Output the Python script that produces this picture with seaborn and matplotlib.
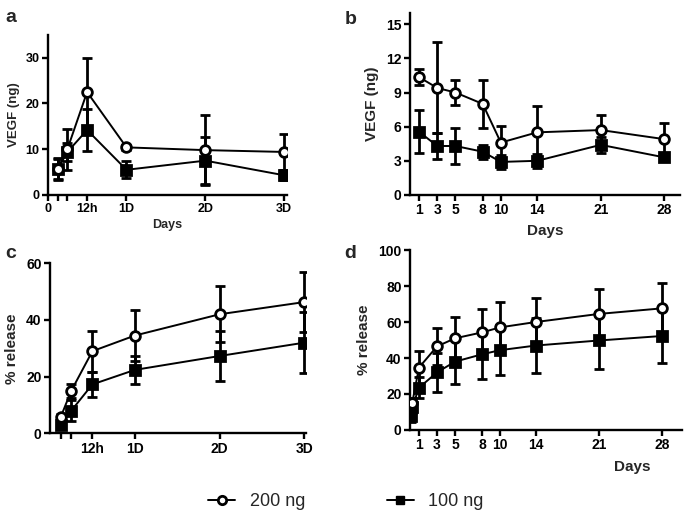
import numpy as np
import pandas as pd
import seaborn as sns
import matplotlib.pyplot as plt
from matplotlib.lines import Line2D

sns.set_style("ticks")
plt.rcParams['font.family'] = ['Liberation Sans', 'DejaVu Sans']
plt.rcParams['font.weight'] = 'bold'
plt.rcParams['axes.labelweight'] = 'bold'

# ---- data ----
hours = [3, 6, 12, 24, 48, 72]

a_200 = [5.7, 10.0, 22.5, 10.4, 9.8, 9.4]
a_200_sd = [2.4, 4.5, 7.5, 0.5, 7.6, 4.0]
a_100 = [5.6, 9.4, 14.2, 5.5, 7.5, 4.3]
a_100_sd = [2.2, 2.0, 4.7, 1.9, 5.2, 1.0]

days_b = [1, 3, 5, 8, 10, 14, 21, 28]
b_200 = [10.35, 9.4, 9.0, 8.0, 4.6, 5.5, 5.7, 4.9]
b_200_sd = [0.7, 4.0, 1.1, 2.1, 1.45, 2.3, 1.3, 1.4]
b_100 = [5.55, 4.3, 4.3, 3.8, 2.9, 3.0, 4.4, 3.3]
b_100_sd = [1.9, 1.1, 1.55, 0.6, 0.6, 0.6, 0.7, 0.2]

c_200 = [5.7, 15.0, 29.0, 34.5, 42.0, 46.3]
c_200_sd = [1.0, 2.5, 7.2, 9.1, 9.8, 10.7]
c_100 = [3.0, 8.0, 17.3, 22.4, 27.3, 32.0]
c_100_sd = [1.5, 3.7, 4.5, 4.9, 8.9, 10.7]

days_d_200 = [0.25, 1, 3, 5, 8, 10, 14, 21, 28]
d_200 = [15.0, 34.7, 46.5, 51.0, 54.3, 57.1, 60.1, 64.6, 67.7]
d_200_sd = [3.0, 9.0, 10.5, 12.0, 13.3, 14.0, 13.1, 13.7, 14.3]
days_d_100 = [0.125, 0.25, 1, 3, 5, 8, 10, 14, 21, 28]
d_100 = [7.5, 12.5, 23.5, 32.0, 38.0, 42.1, 44.4, 47.0, 49.8, 52.3]
d_100_sd = [3.0, 3.0, 6.0, 11.0, 12.6, 13.7, 13.9, 15.5, 15.7, 15.2]

day_ticks = [1, 3, 5, 8, 10, 14, 21, 28]


def draw(ax, x, y, sd, marker, fill):
    df = pd.DataFrame({"x": x, "y": y})
    ax.errorbar(x, y, yerr=sd, fmt="none", ecolor="black", elinewidth=2,
                capsize=3.5, capthick=2, zorder=2)
    sns.lineplot(data=df, x="x", y="y", ax=ax, color="black", lw=1.4,
                 marker=marker, ms=7 if marker == "o" else 6.5,
                 mfc=fill, mec="black", mew=2, zorder=3, legend=False)


def style(ax, tsize):
    for s in ["top", "right"]:
        ax.spines[s].set_visible(False)
    for s in ["left", "bottom"]:
        ax.spines[s].set_linewidth(1.7)
        ax.spines[s].set_color("black")
    ax.tick_params(direction="out", length=4, width=1.7, labelsize=tsize,
                   colors="black", pad=2)
    for lab in ax.get_xticklabels() + ax.get_yticklabels():
        lab.set_fontweight("bold")


fig = plt.figure(figsize=(6.85, 5.13), dpi=100)
ax_a = fig.add_axes([0.0696, 0.620, 0.350, 0.312])
ax_b = fig.add_axes([0.5985, 0.620, 0.394, 0.355])
ax_c = fig.add_axes([0.073, 0.155, 0.374, 0.332])
ax_d = fig.add_axes([0.5985, 0.162, 0.397, 0.350])

# panel a
draw(ax_a, hours, a_100, a_100_sd, "s", "black")
draw(ax_a, hours, a_200, a_200_sd, "o", "white")
ax_a.set_xlim(0, 73)
ax_a.set_ylim(0, 35)
ax_a.set_yticks([0, 10, 20, 30])
ax_a.set_xticks([0, 3, 6, 12, 24, 48, 72])
ax_a.set_xticklabels(["0", "", "", "12h", "1D", "2D", "3D"])
ax_a.set_xlabel("Days", fontsize=9, labelpad=3)
ax_a.set_ylabel("VEGF (ng)", fontsize=9.5, labelpad=4)
style(ax_a, 9)

# panel b
draw(ax_b, days_b, b_100, b_100_sd, "s", "black")
draw(ax_b, days_b, b_200, b_200_sd, "o", "white")
ax_b.set_xlim(0, 29.7)
ax_b.set_ylim(0, 16)
ax_b.set_yticks([0, 3, 6, 9, 12, 15])
ax_b.set_xticks(day_ticks)
ax_b.set_xlabel("Days", fontsize=11, labelpad=5)
ax_b.set_ylabel("VEGF (ng)", fontsize=11, labelpad=5)
style(ax_b, 10)

# panel c
draw(ax_c, hours, c_100, c_100_sd, "s", "black")
draw(ax_c, hours, c_200, c_200_sd, "o", "white")
ax_c.set_xlim(0, 72.5)
ax_c.set_ylim(0, 60)
ax_c.set_yticks([0, 20, 40, 60])
ax_c.set_xticks([3, 6, 12, 24, 48, 72])
ax_c.set_xticklabels(["", "", "12h", "1D", "2D", "3D"])
ax_c.set_xlabel("")
ax_c.set_ylabel("% release", fontsize=11, labelpad=5)
style(ax_c, 10)

# panel d
draw(ax_d, days_d_100, d_100, d_100_sd, "s", "black")
draw(ax_d, days_d_200, d_200, d_200_sd, "o", "white")
ax_d.set_xlim(0, 30.2)
ax_d.set_ylim(0, 100)
ax_d.set_yticks([0, 20, 40, 60, 80, 100])
ax_d.set_xticks(day_ticks)
ax_d.set_xlabel("Days", fontsize=11, labelpad=3)
ax_d.xaxis.set_label_coords(0.816, -0.17)
ax_d.set_ylabel("% release", fontsize=11, labelpad=5)
style(ax_d, 10)

# panel letters
for lbl, (x, y) in zip("abcd", [(0.008, 0.965), (0.503, 0.962), (0.008, 0.505), (0.503, 0.505)]):
    fig.text(x, y, lbl, fontsize=14, fontweight="bold", va="center")

handles = [
    Line2D([], [], color="black", lw=1.4, marker="o", ms=6, mfc="white", mec="black", mew=2),
    Line2D([], [], color="black", lw=1.4, marker="s", ms=6, mfc="black", mec="black"),
]
fig.legend(handles, ["200 ng", "100 ng"], loc="center", bbox_to_anchor=(0.505, 0.022),
           ncol=2, frameon=False, handlelength=1.5, columnspacing=4.5, handletextpad=0.8,
           prop={"size": 13, "weight": "normal"})

fig.savefig("out.png", dpi=100)
